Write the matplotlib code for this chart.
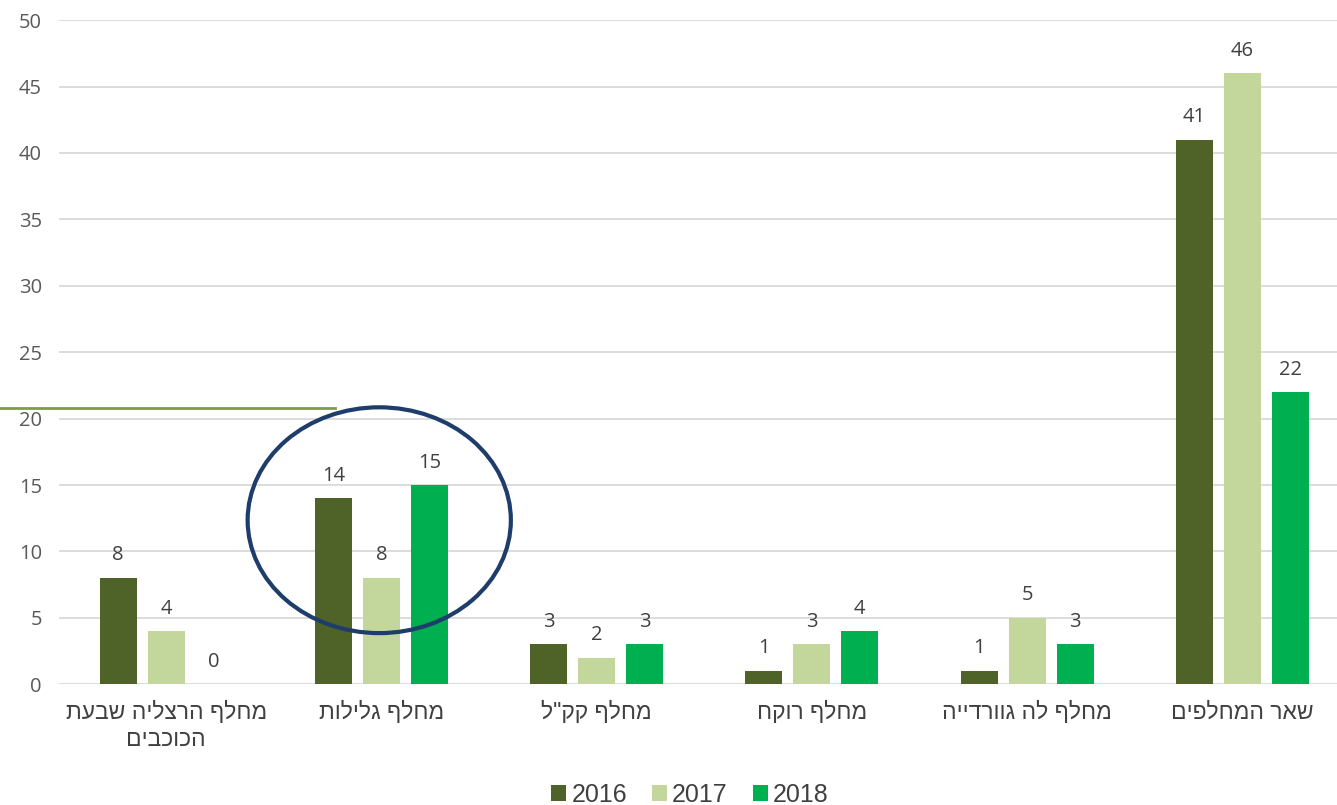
# -*-coding:utf-8-*-

"""
grouped bar chart - interchange counts 2016-2018
"""

import matplotlib
matplotlib.use('Agg')
from matplotlib import pyplot as plt
from matplotlib.patches import Ellipse
from matplotlib.lines import Line2D
import matplotlib.transforms as mtransforms
import numpy as np

# data
categories = ['מחלף הרצליה שבעת\nהכוכבים', 'מחלף גלילות', 'מחלף קק"ל',
              'מחלף רוקח', 'מחלף לה גוורדייה', 'שאר המחלפים']
years = ['2016', '2017', '2018']
v2016 = [8, 14, 3, 1, 1, 41]
v2017 = [4, 8, 2, 3, 5, 46]
v2018 = [0, 15, 3, 4, 3, 22]
colors = ['#4f6228', '#c3d69b', '#00b050']


def rtl(s):
    # matplotlib has no bidi support, reverse each line for display
    return '\n'.join(line[::-1] for line in s.split('\n'))


fig = plt.figure(figsize=(13.37, 8.05), dpi=100)
ax = fig.add_axes([0.0438, 0.150, 0.9562, 0.825])

x = np.arange(len(categories))
w = 0.172
step = 0.223
series = [v2016, v2017, v2018]
for i, vals in enumerate(series):
    pos = x + (i - 1) * step
    bars = ax.bar(pos, vals, width=w, color=colors[i], label=years[i], zorder=3)
    for b, v in zip(bars, vals):
        ax.annotate(str(v), (b.get_x() + b.get_width() / 2, v),
                    xytext=(0, 9), textcoords='offset points',
                    ha='center', va='bottom', fontsize=14.5,
                    family=['Open Sans', 'DejaVu Sans'], color='#404040')

ax.set_xlim(-0.5, 5.44)
ax.set_ylim(0, 50)
ax.set_yticks(range(0, 51, 5))
ax.yaxis.grid(True, color='#d9d9d9', linewidth=1.3, zorder=0)
ax.set_axisbelow(True)
for sp in ax.spines.values():
    sp.set_visible(False)
ax.tick_params(axis='both', length=0)
ax.tick_params(axis='y', pad=12, labelsize=14.5, labelcolor='#595959')
ax.tick_params(axis='x', pad=12, labelsize=16.5, labelcolor='#404040')
for t in ax.get_yticklabels():
    t.set_family(['Open Sans', 'DejaVu Sans'])
ax.set_xticks(x)
ax.set_xticklabels([rtl(c) for c in categories],
                   family=['Liberation Sans', 'DejaVu Sans'])

# ellipse highlight around second group
ell = Ellipse((0.99, 12.35), 1.223, 17.0, fill=False, edgecolor='#1f3d6b',
              linewidth=3.0, zorder=5, clip_on=False)
ax.add_patch(ell)

# stray green line
trans = mtransforms.blended_transform_factory(fig.transFigure, ax.transData)
fig.add_artist(Line2D([0, 0.2506], [20.8, 20.8], transform=trans,
                      color='#7f9c4a', linewidth=2.0))

leg = fig.legend(loc='lower center', bbox_to_anchor=(0.516, -0.03), ncol=3,
                 frameon=False, handlelength=0.6, handleheight=0.6,
                 handletextpad=0.2, columnspacing=1.0,
                 prop={'family': ['Liberation Sans', 'DejaVu Sans'], 'size': 18})
for t in leg.get_texts():
    t.set_color('#404040')

fig.savefig('out.png', dpi=100)
